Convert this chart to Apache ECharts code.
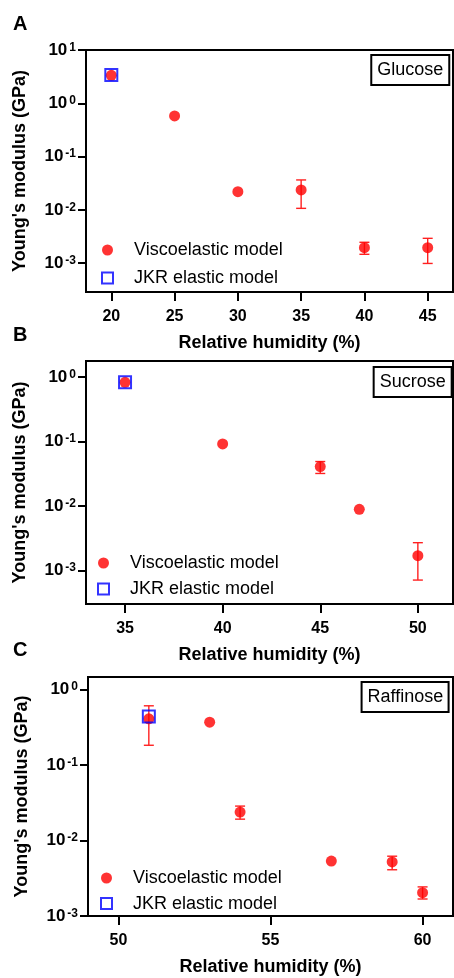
<!DOCTYPE html>
<html>
<head>
<meta charset="utf-8">
<script src="https://cdn.jsdelivr.net/npm/echarts@6/dist/echarts.min.js"></script>
<style>
  html, body { margin: 0; padding: 0; background: #fff; }
  #chart { width: 454px; height: 978px; }
</style>
</head>
<body>
<div id="chart"></div>
<script>
// Glucose (panel A)
var glucoseRH = [20, 25, 30, 35, 40, 45];
var glucoseE = [3.35, 0.58, 0.022, 0.0237, 0.00196, 0.00196];
var glucoseErrLow = [null, null, null, 0.0107, 0.00147, 0.00099];
var glucoseErrHigh = [null, null, null, 0.0365, 0.00247, 0.00293];
var glucoseJkrRH = [20];
var glucoseJkrE = [3.4];

// Sucrose (panel B)
var sucroseRH = [35, 40, 45, 47, 50];
var sucroseE = [0.83, 0.092, 0.041, 0.0089, 0.0017];
var sucroseErrLow = [null, null, 0.032, null, 0.00071];
var sucroseErrHigh = [null, null, 0.049, null, 0.0027];
var sucroseJkrRH = [35];
var sucroseJkrE = [0.83];

// Raffinose (panel C)
var raffinoseRH = [51, 53, 54, 57, 59, 60];
var raffinoseE = [0.41, 0.37, 0.0238, 0.00535, 0.0052, 0.00204];
var raffinoseErrLow = [0.183, null, 0.0192, null, 0.0041, 0.00168];
var raffinoseErrHigh = [0.61, null, 0.0286, null, 0.0062, 0.00243];
var raffinoseJkrRH = [51];
var raffinoseJkrE = [0.44];

// tick values
var glucoseXTicks = [20, 25, 30, 35, 40, 45];
var sucroseXTicks = [35, 40, 45, 50];
var raffinoseXTicks = [50, 55, 60];
var glucoseYTicks = [0.001, 0.01, 0.1, 1, 10];
var otherYTicks = [0.001, 0.01, 0.1, 1];

var panelLetters = ["A", "B", "C"];
var sugarNames = ["Glucose", "Sucrose", "Raffinose"];
var xTitle = "Relative humidity (%)";
var yTitle = "Young's modulus (GPa)";
var seriesNames = ["Viscoelastic model", "JKR elastic model"];

var FONT = "Liberation Sans, Arial, sans-serif";
var RED = "#ff0000";
var BLUE = "#0000ff";

function pairs(xs, ys) {
  var out = [];
  xs.forEach(function (x, i) { out.push([x, ys[i]]); });
  return out;
}
function errTriples(xs, lo, hi) {
  var out = [];
  xs.forEach(function (x, i) {
    if (lo[i] != null) out.push([x, lo[i], hi[i]]);
  });
  return out;
}

function errorBarItem(params, api) {
  var x = api.value(0);
  var pLo = api.coord([x, api.value(1)]);
  var pHi = api.coord([x, api.value(2)]);
  var w = 5;
  var style = { stroke: "#ff2020", lineWidth: 1.4 };
  return {
    type: "group",
    children: [
      { type: "line", shape: { x1: pHi[0], y1: pHi[1], x2: pLo[0], y2: pLo[1] }, style: style },
      { type: "line", shape: { x1: pHi[0] - w, y1: pHi[1], x2: pHi[0] + w, y2: pHi[1] }, style: style },
      { type: "line", shape: { x1: pLo[0] - w, y1: pLo[1], x2: pLo[0] + w, y2: pLo[1] }, style: style }
    ]
  };
}

// panel geometry
var grids = [
  { left: 86, top: 50, right: 1, height: 242 },
  { left: 86, top: 361, right: 1, height: 243 },
  { left: 88, top: 677, right: 1, height: 239 }
];
var xRanges = [[18, 47], [33, 51.8], [49, 61]];
var yRanges = [[Math.pow(10, -3.54), 10], [Math.pow(10, -3.52), Math.pow(10, 0.25)], [0.001, Math.pow(10, 0.167)]];
var xTicks = [glucoseXTicks, sucroseXTicks, raffinoseXTicks];
var yTicks = [glucoseYTicks, otherYTicks, otherYTicks];

var xAxes = [], yAxes = [];
for (var i = 0; i < 3; i++) {
  xAxes.push({
    type: "value",
    gridIndex: i,
    min: xRanges[i][0],
    max: xRanges[i][1],
    name: xTitle,
    nameLocation: "middle",
    nameGap: 42,
    nameTextStyle: { fontFamily: FONT, fontSize: 18, fontWeight: "bold", color: "#000" },
    axisLine: { show: true, lineStyle: { color: "#000", width: 2 } },
    axisTick: { show: true, length: 9, lineStyle: { color: "#000", width: 2 }, customValues: xTicks[i] },
    axisLabel: { margin: 17, fontFamily: FONT, fontSize: 16, fontWeight: "bold", color: "#000", customValues: xTicks[i] },
    splitLine: { show: false }
  });
  yAxes.push({
    type: "log",
    logBase: 10,
    gridIndex: i,
    min: yRanges[i][0],
    max: yRanges[i][1],
    name: yTitle,
    nameLocation: "middle",
    nameGap: 57,
    nameTextStyle: { fontFamily: FONT, fontSize: 18, fontWeight: "bold", color: "#000" },
    axisLine: { show: true, lineStyle: { color: "#000", width: 2 } },
    axisTick: { show: true, length: 8, lineStyle: { color: "#000", width: 2 }, customValues: yTicks[i] },
    axisLabel: {
      margin: 10,
      customValues: yTicks[i],
      formatter: function (v) {
        var e = Math.round(Math.log10(v));
        return "{b|10}{s|" + e + "}";
      },
      rich: {
        b: { fontFamily: FONT, fontSize: 17, fontWeight: "bold", color: "#000" },
        s: { fontFamily: FONT, fontSize: 12, fontWeight: "bold", color: "#000", verticalAlign: "top", padding: [0, 0, 0, 2] }
      }
    },
    splitLine: { show: false },
    minorTick: { show: false }
  });
}

var panels = [
  [glucoseRH, glucoseE, glucoseErrLow, glucoseErrHigh, glucoseJkrRH, glucoseJkrE],
  [sucroseRH, sucroseE, sucroseErrLow, sucroseErrHigh, sucroseJkrRH, sucroseJkrE],
  [raffinoseRH, raffinoseE, raffinoseErrLow, raffinoseErrHigh, raffinoseJkrRH, raffinoseJkrE]
];

var series = [];
panels.forEach(function (p, i) {
  series.push({
    type: "custom",
    name: "err" + i,
    xAxisIndex: i,
    yAxisIndex: i,
    renderItem: errorBarItem,
    encode: { x: 0, y: [1, 2] },
    data: errTriples(p[0], p[2], p[3]),
    z: 2
  });
  series.push({
    type: "scatter",
    name: seriesNames[0],
    xAxisIndex: i,
    yAxisIndex: i,
    symbol: "circle",
    symbolSize: 11,
    itemStyle: { color: RED },
    data: pairs(p[0], p[1]),
    z: 3
  });
  series.push({
    type: "scatter",
    name: seriesNames[1],
    xAxisIndex: i,
    yAxisIndex: i,
    symbol: "rect",
    symbolSize: 12,
    itemStyle: { color: "rgba(0,0,0,0)", borderColor: BLUE, borderWidth: 2 },
    data: pairs(p[4], p[5]),
    z: 4
  });
});

var legendPos = [
  { left: 101, top: 241, itemGap: 10 },
  { left: 97, top: 554, itemGap: 8 },
  { left: 100, top: 869, itemGap: 7.6 }
];
var legends = legendPos.map(function (lp) {
  return {
    orient: "vertical",
    left: lp.left,
    top: lp.top,
    padding: 0,
    itemGap: lp.itemGap,
    itemWidth: 11,
    itemHeight: 11,
    selectedMode: false,
    data: seriesNames,
    textStyle: { fontFamily: FONT, fontSize: 18, color: "#000", lineHeight: 18, padding: [0, 0, 0, 16] }
  };
});

var titlePos = [
  { right: 4.7, top: 55 },
  { right: 2.3, top: 367 },
  { right: 4.7, top: 682 }
];
var titles = titlePos.map(function (tp, i) {
  return {
    text: sugarNames[i],
    right: tp.right,
    top: tp.top,
    padding: [6, 6, 6, 6],
    borderColor: "#000",
    borderWidth: 2,
    textStyle: { fontFamily: FONT, fontSize: 18, fontWeight: "normal", color: "#000", lineHeight: 18 }
  };
});

var letterTops = [14, 325, 640];
var graphics = panelLetters.map(function (l, i) {
  return {
    type: "text",
    left: 13,
    top: letterTops[i],
    style: { text: l, font: "bold 20px " + FONT, fill: "#000" }
  };
});

var chart = echarts.init(document.getElementById("chart"));
chart.setOption({
  animation: false,
  backgroundColor: "#fff",
  title: titles,
  legend: legends,
  grid: grids.map(function (g) {
    return Object.assign({ show: true, borderColor: "#000", borderWidth: 2, containLabel: false }, g);
  }),
  xAxis: xAxes,
  yAxis: yAxes,
  series: series,
  graphic: graphics
});
</script>
</body>
</html>
